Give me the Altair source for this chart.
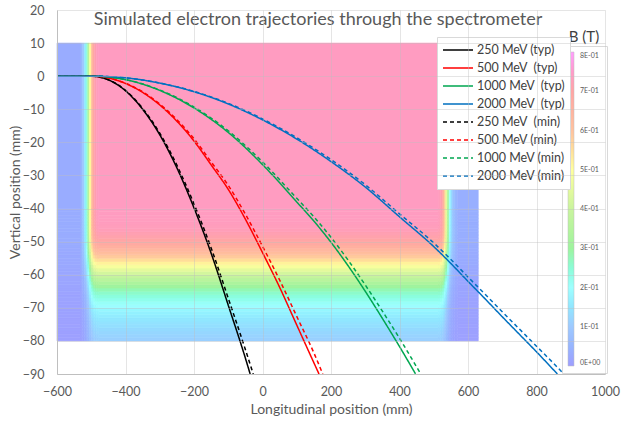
import altair as alt
import pandas as pd

# ---------------- field map (B in tesla) ----------------
FIELD_X_EDGES = [-600, -530, -525, -520, -515, -510, -505, -500, -495, -490, -485, -480,
                 515, 520, 525, 530, 535, 540, 545, 550, 555, 560, 565, 570, 630]
FIELD_X_B = [0.03, 0.06, 0.10, 0.16, 0.24, 0.36, 0.50, 0.62, 0.69, 0.72, 0.735, 0.74,
             0.735, 0.72, 0.68, 0.58, 0.46, 0.32, 0.20, 0.13, 0.09, 0.065, 0.05, 0.035]
FIELD_Y_EDGES = [-80, -79, -78, -77, -76, -75, -74, -73, -72, -71, -70, -69, -68, -67, -66,
                 -65, -64, -63, -62, -61, -60, -59, -58, -57, -56, -55, -54, -53, -52, -51,
                 -50, -49, -48, -47, -46, -45, -44, -43, -42, -41, -40, 10]
FIELD_Y_FACTOR = [0.15, 0.157, 0.165, 0.175, 0.185, 0.195, 0.205, 0.218, 0.232, 0.247,
                  0.265, 0.285, 0.305, 0.327, 0.352, 0.38, 0.412, 0.447, 0.485, 0.525,
                  0.567, 0.612, 0.657, 0.702, 0.747, 0.79, 0.828, 0.862, 0.895, 0.922,
                  0.945, 0.962, 0.975, 0.985, 0.991, 0.995, 0.997, 0.999, 1.0, 1.0, 1.0]

B_STOPS = [0, 0.1, 0.2, 0.3, 0.4, 0.5, 0.6, 0.7, 0.8]
B_COLORS = ["#9E9EFF", "#9EC9FF", "#9EFFFF", "#9EF49E", "#C9F49E",
            "#FFFF9E", "#FFC29E", "#FFA5A5", "#FF9EFF"]
B_LABEL_VALUES = [0, 0.1, 0.2, 0.3, 0.4, 0.5, 0.6, 0.7, 0.8]

# ---------------- trajectories ----------------
BLACK_TYP_X = [-600, -500, -450, -400, -350, -300, -250, -200, -150, -100, -50, -36]
BLACK_TYP_Y = [0, 0, -1.1, -4.4, -10.0, -17.7, -27.7, -39.8, -53.5, -69.2, -85.2, -90]
BLACK_MIN_X = [-600, -500, -450, -400, -350, -300, -250, -200, -150, -100, -50, -27]
BLACK_MIN_Y = [0, 0, -1.07, -4.27, -9.7, -17.2, -26.9, -38.6, -51.9, -67.1, -82.6, -90]

RED_TYP_X = [-600, -500, -450, -400, -350, -300, -250, -200, -150, -100, -50, 0, 50, 100, 150, 165]
RED_TYP_Y = [0, 0, -0.55, -2.2, -4.9, -8.7, -13.6, -19.6, -26.8, -34.2, -43.2, -53.3, -63.8, -75.2, -86.6, -90]
RED_MIN_X = [-600, -500, -450, -400, -350, -300, -250, -200, -150, -100, -50, 0, 50, 100, 150, 176]
RED_MIN_Y = [0, 0, -0.53, -2.12, -4.73, -8.4, -13.1, -18.9, -25.9, -33.0, -41.7, -51.4, -61.6, -72.6, -83.6, -90]

GREEN_TYP_X = [-600, -500, -400, -300, -200, -100, 0, 100, 150, 200, 250, 300, 350, 400, 447]
GREEN_TYP_Y = [0, 0, -1.06, -4.3, -9.6, -17.0, -26.7, -38.0, -43.8, -50.2, -57.3, -65.0, -73.2, -81.7, -90]
GREEN_MIN_X = [-600, -500, -400, -300, -200, -100, 0, 100, 150, 200, 250, 300, 350, 400, 462]
GREEN_MIN_Y = [0, 0, -1.03, -4.17, -9.31, -16.5, -25.9, -36.9, -42.5, -48.7, -55.6, -63.1, -71.0, -79.2, -90]

BLUE_TYP_X = [-600, -500, -400, -300, -200, -100, 0, 100, 200, 300, 400, 500, 550, 600, 650, 700, 750, 800, 861]
BLUE_TYP_Y = [0, 0, -0.5, -2.1, -4.7, -8.4, -13.2, -19.0, -25.8, -33.5, -42.5, -51.5, -56.6, -62.0, -67.3, -72.7, -78.0, -83.3, -90]
BLUE_MIN_X = [-600, -500, -400, -300, -200, -100, 0, 100, 200, 300, 400, 500, 550, 600, 650, 700, 750, 800, 850, 880]
BLUE_MIN_Y = [0, 0, -0.49, -2.06, -4.6, -8.2, -12.9, -18.6, -25.2, -32.8, -41.6, -50.4, -55.4, -60.7, -65.9, -71.2, -76.4, -81.6, -86.8, -90]

SERIES = ["250 MeV (typ)", "500 MeV\u00a0 (typ)", "1000 MeV\u00a0 (typ)", "2000 MeV\u00a0 (typ)",
          "250 MeV\u00a0 (min)", "500 MeV (min)", "1000 MeV (min)", "2000 MeV (min)"]
SERIES_COLORS = ["#000000", "#FF0000", "#00A650", "#0070C0",
                 "#000000", "#FF0000", "#00A650", "#0070C0"]
SERIES_DASH = [[1, 0], [1, 0], [1, 0], [1, 0], [4, 3], [4, 3], [4, 3], [4, 3]]
SERIES_XY = [(BLACK_TYP_X, BLACK_TYP_Y), (RED_TYP_X, RED_TYP_Y), (GREEN_TYP_X, GREEN_TYP_Y),
             (BLUE_TYP_X, BLUE_TYP_Y), (BLACK_MIN_X, BLACK_MIN_Y), (RED_MIN_X, RED_MIN_Y),
             (GREEN_MIN_X, GREEN_MIN_Y), (BLUE_MIN_X, BLUE_MIN_Y)]

TITLE = "Simulated electron trajectories through the spectrometer"
FONT = "Lato"
GREY = "#595959"

# ---------------- tables ----------------
cells = []
for i in range(len(FIELD_X_B)):
    for j in range(len(FIELD_Y_FACTOR)):
        cells.append({"x0": FIELD_X_EDGES[i], "x1": FIELD_X_EDGES[i + 1],
                      "y0": FIELD_Y_EDGES[j], "y1": FIELD_Y_EDGES[j + 1],
                      "B": FIELD_X_B[i] * FIELD_Y_FACTOR[j]})
field_df = pd.DataFrame(cells)

rows = []
for name, (xs, ys) in zip(SERIES, SERIES_XY):
    for k, (xv, yv) in enumerate(zip(xs, ys)):
        rows.append({"series": name, "x": xv, "y": yv, "k": k})
traj_df = pd.DataFrame(rows)

x_scale = alt.Scale(domain=[-600, 1000], nice=False, zero=False)
y_scale = alt.Scale(domain=[-90, 20], nice=False, zero=False)

common_axis = dict(ticks=False, labelFontSize=12.5, labelColor=GREY, labelFont=FONT,
                   titleFontSize=14, titleColor=GREY, titleFont=FONT, titleFontWeight="normal",
                   grid=True, gridColor="#BFBFBF", gridOpacity=0.4, domainColor="#BFBFBF",
                   zindex=1, labelFlush=False, format="d")
x_axis = alt.Axis(values=list(range(-600, 1001, 200)), title="Longitudinal position (mm)",
                  labelPadding=11, titlePadding=5, **common_axis)
y_axis = alt.Axis(values=list(range(-90, 21, 10)), title="Vertical position (mm)",
                  labelPadding=13, titlePadding=0, **common_axis)

b_scale = alt.Scale(domain=B_STOPS, range=B_COLORS, type="linear")

heat = alt.Chart(field_df).mark_rect(strokeWidth=0.6).encode(
    x=alt.X("x0:Q", scale=x_scale, axis=x_axis),
    x2="x1:Q",
    y=alt.Y("y0:Q", scale=y_scale, axis=y_axis),
    y2="y1:Q",
    fill=alt.Fill("B:Q", scale=b_scale, legend=alt.Legend(
        orient="none", legendX=505, legendY=36, direction="vertical",
        gradientLength=314, gradientThickness=6, title=None, values=B_LABEL_VALUES,
        labelExpr="datum.value == 0 ? '0E+00' : format(datum.value*10, '.0f') + 'E-01'",
        labelFontSize=7, labelColor=GREY, labelFont=FONT, labelOffset=6,
        fillColor="white", strokeColor="#D9D9D9", padding=6,
        gradientStrokeColor="#BFBFBF", gradientStrokeWidth=0.5)),
    stroke=alt.Stroke("B:Q", scale=b_scale, legend=None),
)

line_legend = alt.Legend(orient="none", legendX=380, legendY=27, title=None,
                         symbolType="stroke", symbolSize=900, symbolStrokeWidth=1.5,
                         clipHeight=16, rowPadding=2,
                         labelFontSize=12.5, labelFont=FONT, labelColor="#404040",
                         fillColor="white", strokeColor="#D9D9D9", padding=5,
                         labelOffset=3)

lines = alt.Chart(traj_df).mark_line(strokeWidth=1.5, clip=True, interpolate="monotone").encode(
    x=alt.X("x:Q", scale=x_scale, axis=x_axis),
    y=alt.Y("y:Q", scale=y_scale, axis=y_axis),
    stroke=alt.Stroke("series:N", scale=alt.Scale(domain=SERIES, range=SERIES_COLORS),
                      legend=line_legend),
    strokeDash=alt.StrokeDash("series:N", scale=alt.Scale(domain=SERIES, range=SERIES_DASH),
                              legend=line_legend),
    order="k:Q",
)

title_txt = alt.Chart(pd.DataFrame({"t": [TITLE]})).mark_text(
    font=FONT, fontSize=18, color=GREY, align="center", baseline="middle"
).encode(text="t:N", x=alt.value(261), y=alt.value(10))

b_txt = alt.Chart(pd.DataFrame({"t": ["B (T)"]})).mark_text(
    font=FONT, fontSize=15, color="#404040", align="center", baseline="middle"
).encode(text="t:N", x=alt.value(527), y=alt.value(27))

chart = alt.layer(heat, lines, title_txt, b_txt).resolve_scale(
    stroke="independent", strokeDash="independent"
).resolve_legend(
    stroke="independent", strokeDash="independent"
).properties(
    width=548, height=364,
    autosize=alt.AutoSizeParams(type="none"),
    padding={"left": 57, "top": 10, "right": 19, "bottom": 47},
).configure_view(stroke=None)

chart.save("out.html", embed_options={"renderer": "svg", "actions": False})
